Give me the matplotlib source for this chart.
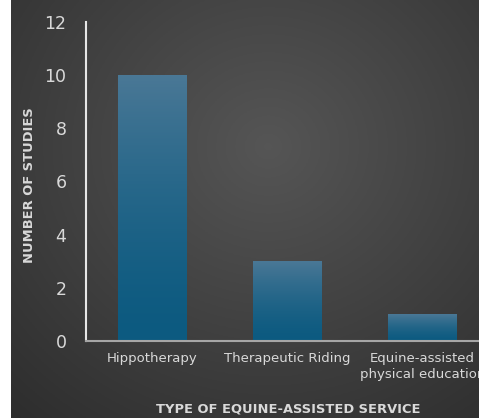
import numpy as np
import matplotlib
matplotlib.use("Agg")
from matplotlib import pyplot as plt

categories = ["Hippotherapy", "Therapeutic Riding", "Equine-assisted\nphysical education"]
studies = [10, 3, 1]
y_ticks = [0, 2, 4, 6, 8, 10, 12]

W, H = 479, 418
fig = plt.figure(figsize=(W / 100, H / 100), dpi=100)
fig.patch.set_facecolor("white")

# dark radial background
bg = fig.add_axes([11 / W, 0, 1 - 11 / W, 1])
yy, xx = np.mgrid[0:1:200j, 0:1:200j]
r = np.sqrt((xx - 0.55) ** 2 + ((yy - 0.65) * 0.95) ** 2)
shade = np.clip(0.335 - 0.19 * r, 0.16, 0.34)
bg.imshow(np.dstack([shade, shade, shade]), extent=[0, 1, 0, 1], aspect="auto", origin="lower")
bg.axis("off")

ax = fig.add_axes([86 / W, (H - 341) / H, (W - 86) / W, (341 - 22) / H])
ax.patch.set_alpha(0)
x = np.arange(len(categories))
bars = ax.bar(x, studies, width=0.51, color="none", zorder=2)

# vertical gradient in each bar
g = np.linspace(0, 1, 256) ** 1.5
top = np.array([0x4a, 0x78, 0x96]) / 255
bot = np.array([0x0c, 0x5a, 0x80]) / 255
cols = (bot + (top - bot) * g[:, None]).reshape(-1, 1, 3)
for b in bars:
    x0, y0 = b.get_x(), b.get_y()
    w, h = b.get_width(), b.get_height()
    img = ax.imshow(cols, extent=[x0, x0 + w, y0, y0 + h],
                    origin="lower", aspect="auto", zorder=2)
    img.set_clip_path(b)

ax.set_xlim(-0.49, 2.42)
ax.set_ylim(0, 12)
ax.set_yticks(y_ticks)
ax.set_xticks(x)
ax.set_xticklabels(categories, fontsize=9.5, color="#d9d9d9", linespacing=1.3)
ax.tick_params(axis="y", length=0, labelsize=12.5, labelcolor="#d9d9d9", pad=14)
ax.tick_params(axis="x", length=0, pad=8)
for s in ["top", "right"]:
    ax.spines[s].set_visible(False)
ax.spines["left"].set_color("#e6e6e6")
ax.spines["left"].set_linewidth(1.5)
ax.spines["bottom"].set_color("#a6a6a6")
ax.spines["bottom"].set_linewidth(1.5)

fig.text(30 / W, 1 - 185 / H, "NUMBER OF STUDIES", rotation=90, ha="center", va="center",
         fontsize=9.4, fontweight="bold", color="#d9d9d9")
fig.text(288 / W, 1 - 409 / H, "TYPE OF EQUINE-ASSISTED SERVICE", ha="center", va="center",
         fontsize=9.4, fontweight="bold", color="#d9d9d9")

fig.savefig("out.png", dpi=100)
